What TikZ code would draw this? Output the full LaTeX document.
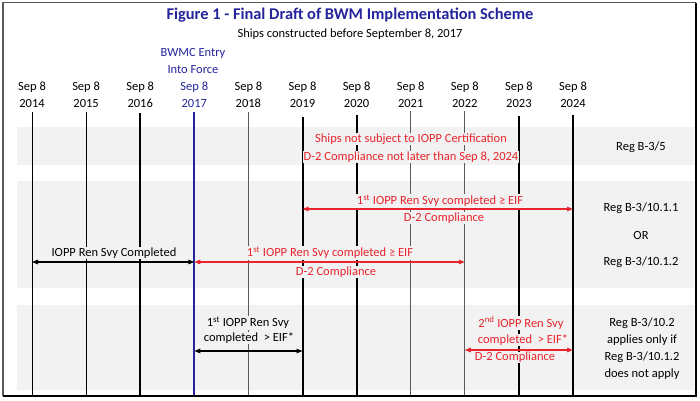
\documentclass[tikz,border=0pt]{standalone}
\usepackage{fontspec}
\setmainfont{Carlito}
\usetikzlibrary{arrows.meta}
\definecolor{bandgray}{RGB}{242,242,242}
\definecolor{myred}{RGB}{232,36,44}
\definecolor{myblue}{RGB}{36,36,156}
\definecolor{linegray}{RGB}{90,90,90}
\tikzset{
  band/.style={fill=bandgray,draw=none},
  lbl/.style={font=\fontsize{12.5}{17}\selectfont,inner sep=0.6pt,align=center},
  redlbl/.style={lbl,text=myred,fill=bandgray},
  blklbl/.style={lbl,text=black,fill=bandgray},
  reglbl/.style={lbl,text=black},
  titlelbl/.style={font=\fontsize{16.4}{19}\selectfont\bfseries,text=myblue,inner sep=0pt},
  thinln/.style={line width=0.9pt,black},
  medln/.style={line width=1.5pt,black},
  thickln/.style={line width=2pt,black},
  grayln/.style={line width=0.9pt,linegray},
  blueln/.style={line width=1.9pt,myblue},
  redarr/.style={line width=1.1pt,myred,{Triangle[length=6pt,width=4.5pt]}-{Triangle[length=6pt,width=4.5pt]}},
  blkarr/.style={line width=1.1pt,black,{Triangle[length=6pt,width=4.5pt]}-{Triangle[length=6pt,width=4.5pt]}},
}
\begin{document}
\begin{tikzpicture}[x=1pt,y=-1pt]
\useasboundingbox (0,0) rectangle (700,400);
% frame
\draw[line width=1.5pt,gray!70!black] (3,396) -- (3,2.5) -- (696,2.5);
\draw[line width=2pt,black] (696,2.5) -- (696,396) -- (3,396);
% bands
\fill[band] (17,127) rectangle (694,165);
\fill[band] (17,181) rectangle (694,288);
\fill[band] (17,305) rectangle (694,390);
% headings
\node[titlelbl] (title) at (350,15) {Figure 1 - Final Draft of BWM Implementation Scheme};
\node[lbl] (subtitle) at (350,34) {Ships constructed before September 8, 2017};
\node[lbl,text=myblue] (eif) at (193,60.5) {BWMC Entry\\Into Force};
% year columns
\foreach \i/\yr/\st/\top in {0/2014/thinln/112,1/2015/thinln/112,2/2016/medln/113,3/2017/blueln/112,4/2018/grayln/112,5/2019/thickln/117,6/2020/thickln/115,7/2021/grayln/111,8/2022/grayln/111,9/2023/thickln/116,10/2024/thickln/115}{
  \pgfmathsetmacro{\xx}{32+54.1*\i}
  \ifnum\yr=2017
    \node[lbl,text=myblue] (y\yr) at (\xx,94.5) {Sep 8\\\yr};
  \else
    \node[lbl] (y\yr) at (\xx,94.5) {Sep 8\\\yr};
  \fi
  \coordinate (t\yr) at (\xx,\top);
  \coordinate (b\yr) at (\xx,395);
  \draw[\st] (t\yr) -- (b\yr);
}
% arrow end coordinates
\coordinate (a1s) at (t2019 |- 0,209);
\coordinate (a1e) at (t2024 |- 0,209);
\coordinate (a2s) at (t2014 |- 0,262);
\coordinate (a2e) at (t2017 |- 0,262);
\coordinate (a3e) at (t2022 |- 0,262);
\coordinate (a4s) at (t2017 |- 0,351);
\coordinate (a4e) at (t2019 |- 0,351);
\coordinate (a5s) at (t2022 |- 0,350);
\coordinate (a5e) at (t2024 |- 0,350);
% band 1
\node[redlbl] (b1a) at (411,139) {Ships not subject to IOPP Certification};
\node[redlbl] (b1b) at (411,157) {D-2 Compliance not later than Sep 8, 2024};
\node[reglbl] (r1) at (641,147) {Reg B-3/5};
% band 2
\node[redlbl] (b2a) at (440,201) {1\textsuperscript{st} IOPP Ren Svy completed ≥ EIF};
\node[redlbl] (b2b) at (444,218) {D-2 Compliance};
\node[blklbl] (b2c) at (114,253) {IOPP Ren Svy Completed};
\node[redlbl] (b2d) at (330,253) {1\textsuperscript{st} IOPP Ren Svy completed ≥ EIF};
\node[redlbl] (b2e) at (336,272) {D-2 Compliance};
\node[reglbl] (r2a) at (641,208) {Reg B-3/10.1.1};
\node[reglbl] (r2b) at (641,235) {OR};
\node[reglbl] (r2c) at (641,262) {Reg B-3/10.1.2};
% band 3
\node[blklbl] (b3a) at (248,323) {1\textsuperscript{st} IOPP Ren Svy};
\node[blklbl] (b3b) at (249,338) {completed \ > EIF*};
\node[redlbl] (b3c) at (521,323) {2\textsuperscript{nd} IOPP Ren Svy};
\node[redlbl] (b3d) at (523,340) {completed \ > EIF*};
\node[redlbl] (b3e) at (515,357.5) {D-2 Compliance};
\node[reglbl] (r3a) at (642,323) {Reg B-3/10.2};
\node[reglbl] (r3b) at (642,340) {applies only if};
\node[reglbl] (r3c) at (642,357) {Reg B-3/10.1.2};
\node[reglbl] (r3d) at (642,374) {does not apply};
% arrows
\draw[redarr] (a1s) -- (a1e);
\draw[blkarr] (a2s) -- (a2e);
\draw[redarr] (a2e) -- (a3e);
\draw[blkarr] (a4s) -- (a4e);
\draw[redarr] (a5s) -- (a5e);
\end{tikzpicture}
\end{document}
